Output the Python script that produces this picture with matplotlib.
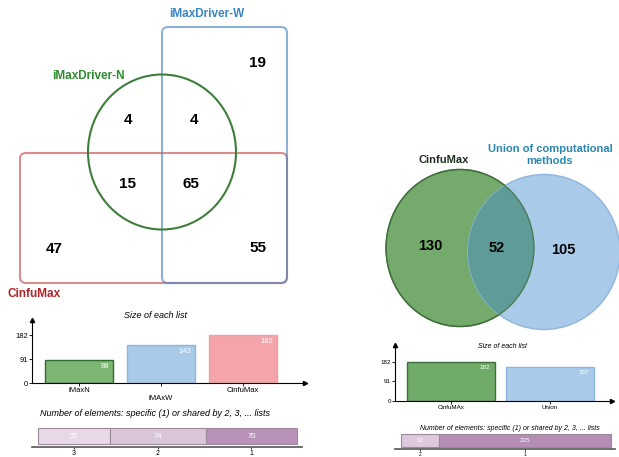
import matplotlib.pyplot as plt
from matplotlib.patches import Ellipse, FancyBboxPatch

plt.rcParams['font.family'] = ['Liberation Sans', 'DejaVu Sans']

W, H = 619, 457

# left venn (3 lists)
venn3_counts = [19, 4, 4, 15, 65, 47, 55]
venn3_labels = ["iMaxDriver-W", "iMaxDriver-N", "CinfuMax"]

# left bar charts
lists_left = ["iMaxN", "iMAxW", "CinfuMax"]
sizes_left = [88, 143, 182]
shared_left_labels = ["3", "2", "1"]
shared_left = [55, 74, 70]

# right venn (2 lists)
venn2_counts = [130, 52, 105]
venn2_labels = ["CinfuMax", "Union of computational\nmethods"]

# right bar charts
lists_right = ["CinfuMAx", "Union"]
sizes_right = [182, 157]
shared_right_labels = ["2", "1"]
shared_right = [52, 235]


def box(x0, y0, x1, y1):
    return [x0 / W, 1 - y1 / H, (x1 - x0) / W, (y1 - y0) / H]


fig = plt.figure(figsize=(W / 100, H / 100), dpi=100)
ax = fig.add_axes([0, 0, 1, 1])
ax.set_xlim(0, W)
ax.set_ylim(H, 0)
ax.axis('off')

# ---- left venn
red = FancyBboxPatch((20, 153), 267, 130, boxstyle="round,pad=0,rounding_size=6",
                     fc='none', ec='#c9504f', lw=1.5, alpha=0.65)
blue = FancyBboxPatch((162, 27), 125, 256, boxstyle="round,pad=0,rounding_size=6",
                      fc='none', ec='#4f86c0', lw=1.5, alpha=0.65)
ax.add_patch(red)
ax.add_patch(blue)
ax.add_patch(Ellipse((162, 152), 148, 155, fc='none', ec='#3f7d3b', lw=1.5))

pos3 = [(257, 63), (128, 120), (194, 120), (128, 184), (191, 184), (54, 249), (258, 248)]
for (x, y), v in zip(pos3, venn3_counts):
    ax.text(x, y, str(v), ha='center', va='center', fontsize=11, fontweight='bold')
ax.text(207, 14, venn3_labels[0], ha='center', va='center', fontsize=8.5,
        fontweight='bold', color='#3a85c4')
ax.text(88, 76, venn3_labels[1], ha='center', va='center', fontsize=8.5,
        fontweight='bold', color='#2f8a2f')
ax.text(34, 294, venn3_labels[2], ha='center', va='center', fontsize=8.5,
        fontweight='bold', color='#b0242a')

# ---- right venn
g = Ellipse((460, 248), 148, 157, fc='#74ab6c', ec='#3f6f3a', lw=1)
b = Ellipse((544, 252), 152, 155, fc='#a9cbe9', ec='#8fb6dc', lw=1)
ax.add_patch(g)
ax.add_patch(b)
mid = Ellipse((460, 248), 148, 157, fc='#5f9c98', ec='none')
ax.add_patch(mid)
mid.set_clip_path(b)
ax.add_patch(Ellipse((460, 248), 148, 157, fc='none', ec='#3f6f3a', lw=1, alpha=0.8))

pos2 = [(430, 246), (497, 248), (563, 250)]
for (x, y), v in zip(pos2, venn2_counts):
    ax.text(x, y, str(v), ha='center', va='center', fontsize=10.5, fontweight='bold')
ax.text(444, 160, venn2_labels[0], ha='center', va='center', fontsize=8,
        fontweight='bold', color='#1e2e1e')
ax.text(550, 155, venn2_labels[1], ha='center', va='center', fontsize=8,
        fontweight='bold', color='#2a87b3', linespacing=1.2)

# titles of the small charts
ax.text(155, 316, "Size of each list", ha='center', va='center', fontsize=6.5, style='italic')
ax.text(155, 413, "Number of elements: specific (1) or shared by 2, 3, ... lists",
        ha='center', va='center', fontsize=6.5, style='italic')
ax.text(502, 346, "Size of each list", ha='center', va='center', fontsize=5, style='italic')
ax.text(510, 429, "Number of elements: specific (1) or shared by 2, 3, ... lists",
        ha='center', va='center', fontsize=5, style='italic')


def size_chart(rect, names, vals, fc, ec, xlim, ylim, fs, stagger):
    a = fig.add_axes(rect)
    a.patch.set_alpha(0)
    a.bar(range(len(vals)), vals, width=xlim[2], color=fc, edgecolor=ec, linewidth=1)
    a.set_xlim(xlim[0], xlim[1])
    a.set_ylim(0, ylim)
    for s in ['top', 'right']:
        a.spines[s].set_visible(False)
    for s in ['left', 'bottom']:
        a.spines[s].set_linewidth(0.8)
    a.plot(1, 0, '>k', ms=3, transform=a.transAxes, clip_on=False)
    a.plot(0, 1, '^k', ms=3, transform=a.transAxes, clip_on=False)
    a.set_yticks([0, 91, 182])
    a.set_yticklabels(["0", "91", "182"])
    a.set_xticks(range(len(vals)))
    a.set_xticklabels(names)
    a.tick_params(labelsize=fs, length=2, width=0.6, pad=1)
    if stagger:
        a.get_xticklabels()[1].set_y(-0.12)
    for i, v in enumerate(vals):
        a.text(i + xlim[2] / 2 - 0.05, v - ylim * 0.05, str(v), ha='right', va='top',
               fontsize=fs, color='white')
    return a


size_chart(box(32, 320, 305, 383), lists_left, sizes_left,
           ['#7db575', '#a9cbe9', '#f5a5a9'], ['#2f6b2b', '#8fb6dc', '#eca0a4'],
           (-0.573, 2.756, 0.83), 239, 5.5, True)
size_chart(box(395, 345, 612, 401), lists_right, sizes_right,
           ['#6fab69', '#a9cbe9'], ['#3f6f3a', '#8fb6dc'],
           (-0.566, 1.626, 0.89), 261, 4.5, False)


def shared_chart(rect, names, vals, colors, pad_l, pad_r, fs, tfs):
    a = fig.add_axes(rect)
    a.patch.set_alpha(0)
    left = 0
    centers = []
    for v, c in zip(vals, colors):
        a.barh(0.5, v, left=left, height=0.72, color=c, edgecolor='#9a8a9a', linewidth=0.8)
        a.text(left + v / 2, 0.5, str(v), ha='center', va='center', fontsize=fs, color='white')
        centers.append(left + v / 2)
        left += v
    a.set_xlim(-pad_l, left + pad_r)
    a.set_ylim(0, 1)
    for s in ['top', 'right', 'left']:
        a.spines[s].set_visible(False)
    a.spines['bottom'].set_linewidth(1.2)
    a.spines['bottom'].set_color('#555555')
    a.set_yticks([])
    a.set_xticks(centers)
    a.set_xticklabels(names)
    a.tick_params(labelsize=tfs, length=1.5, width=0.6, pad=0.5)


shared_chart(box(32, 425, 302, 447), shared_left_labels, shared_left,
             ['#e8d8e8', '#dac6da', '#b992b9'], 4.6, 3.8, 5.5, 5)
shared_chart(box(395, 432, 615, 449), shared_right_labels, shared_right,
             ['#ddc8dd', '#b58db5'], 8.2, 5.5, 4.5, 3.5)

plt.savefig('out.png', dpi=100)
